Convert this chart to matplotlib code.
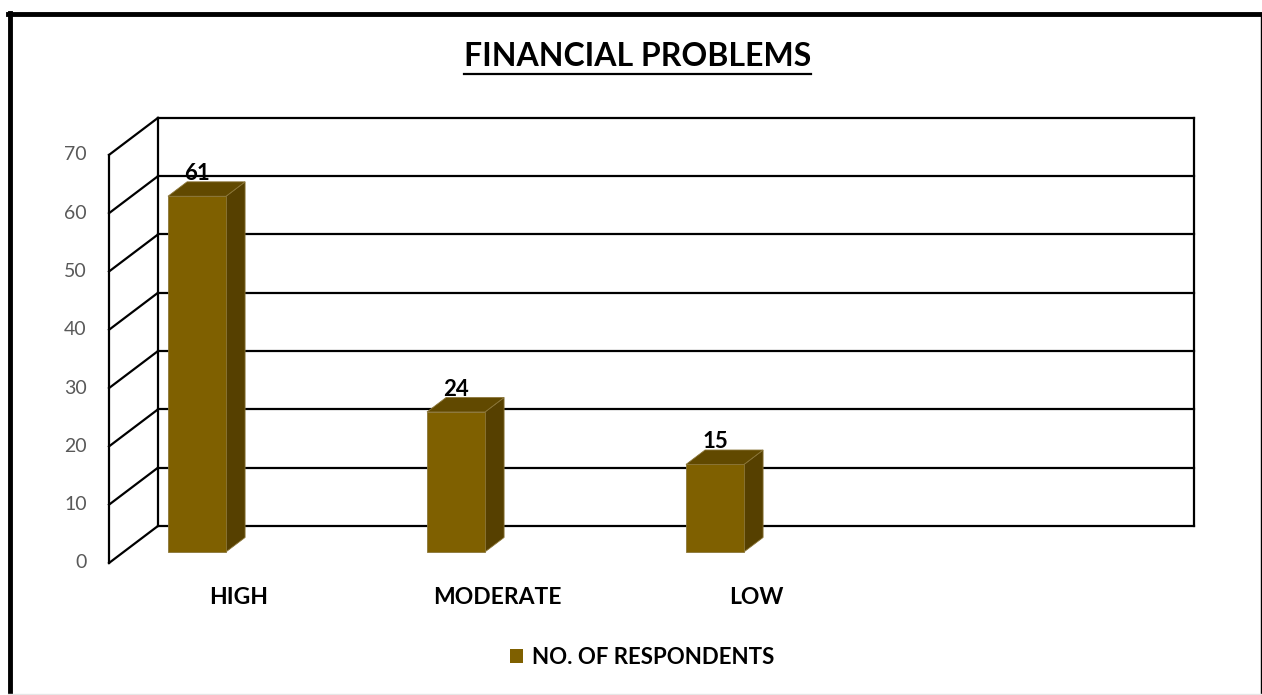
import matplotlib
matplotlib.use("Agg")
import matplotlib.pyplot as plt
from matplotlib.patches import Polygon, Patch
from matplotlib.lines import Line2D

plt.rcParams['font.family'] = ['Lato', 'DejaVu Sans']

categories = ["HIGH", "MODERATE", "LOW"]
respondents = [61, 24, 15]
series_name = "NO. OF RESPONDENTS"
title = "FINANCIAL PROBLEMS"
y_ticks = [0, 10, 20, 30, 40, 50, 60, 70]

# oblique 3d look: depth offset in data units (x = category slots, y = value)
DX = 0.189
DY = 6.35
n_slots = len(categories) + 1
bar_off = 0.171
bar_w = 0.224
d0, d1 = 0.30, 0.69
front_col = "#7F6000"
side_col = "#564000"
top_col = "#614900"
edge_col = "#8a7538"

fig = plt.figure(figsize=(12.62, 6.95), dpi=100)
ax = fig.add_axes([0, 0, 1, 1])
ax.set_xlim(-109 / 259, (1262 - 109) / 259)
ax.set_ylim((563 - 695) / 5.83, 563 / 5.83)
ax.axis("off")

top = y_ticks[-1]
lw = 1.6
# back wall
for v in y_ticks:
    ax.plot([DX, n_slots + DX], [v + DY, v + DY], color="black", lw=lw, zorder=1)
ax.plot([DX, DX], [DY, top + DY], color="black", lw=lw, zorder=1)
ax.plot([n_slots + DX, n_slots + DX], [DY, top + DY], color="black", lw=lw, zorder=1)
# side wall
for v in y_ticks:
    ax.plot([0, DX], [v, v + DY], color="black", lw=lw, zorder=1)
ax.plot([0, 0], [0, top], color="black", lw=lw, zorder=1)

for v in y_ticks:
    ax.annotate(str(v), (0, v), xytext=(-16, 0), textcoords="offset points",
                ha="right", va="center", fontsize=14, color="#595959")

for i, (cat, val) in enumerate(zip(categories, respondents)):
    xl = i + bar_off
    xr = xl + bar_w
    front = [(xl + d0 * DX, d0 * DY), (xr + d0 * DX, d0 * DY),
             (xr + d0 * DX, val + d0 * DY), (xl + d0 * DX, val + d0 * DY)]
    side = [(xr + d0 * DX, d0 * DY), (xr + d1 * DX, d1 * DY),
            (xr + d1 * DX, val + d1 * DY), (xr + d0 * DX, val + d0 * DY)]
    topf = [(xl + d0 * DX, val + d0 * DY), (xr + d0 * DX, val + d0 * DY),
            (xr + d1 * DX, val + d1 * DY), (xl + d1 * DX, val + d1 * DY)]
    for pts, c in [(side, side_col), (topf, top_col), (front, front_col)]:
        ax.add_patch(Polygon(pts, closed=True, facecolor=c, edgecolor=edge_col,
                             lw=0.6, zorder=3))
    ax.annotate(str(val), (xl + d0 * DX + bar_w / 2, val + d1 * DY),
                xytext=(0, -1.5), textcoords="offset points", ha="center", va="bottom",
                fontsize=16, fontweight="bold", color="black", zorder=4)
    ax.annotate(cat, (i + 0.5, 0), xytext=(0, -24.5), textcoords="offset points",
                ha="center", va="center", fontsize=16.5, fontweight="bold", color="black")

t = fig.text(637.5 / 1262, 1 - 56 / 695, title, ha="center", va="center",
             fontsize=23, fontweight="bold")
fig.canvas.draw()
bb = t.get_window_extent()
fig.add_artist(Line2D([bb.x0 / 1262, bb.x1 / 1262], [1 - 74 / 695, 1 - 74 / 695],
                      transform=fig.transFigure, color="black", lw=1.6))

fig.legend(handles=[Patch(facecolor=front_col, label=series_name)],
           loc="center", bbox_to_anchor=(642 / 1262, 1 - 657 / 695), frameon=False,
           handlelength=0.6, handleheight=0.6, handletextpad=0.4,
           prop={"weight": "bold", "size": 16})

# chart area frame
fig.add_artist(Line2D([9.5 / 1262, 9.5 / 1262], [0, 1 - 13 / 695], transform=fig.transFigure,
                      color="black", lw=3.5))
fig.add_artist(Line2D([8 / 1262, 1261 / 1262], [1 - 14 / 695, 1 - 14 / 695],
                      transform=fig.transFigure, color="black", lw=3.5))
fig.add_artist(Line2D([1260.5 / 1262, 1260.5 / 1262], [0, 1 - 14 / 695],
                      transform=fig.transFigure, color="black", lw=1.0))
fig.add_artist(Line2D([8 / 1262, 1261 / 1262], [1.5 / 695, 1.5 / 695],
                      transform=fig.transFigure, color="#e6e6e6", lw=1.0))

fig.savefig("out.png", dpi=100)
